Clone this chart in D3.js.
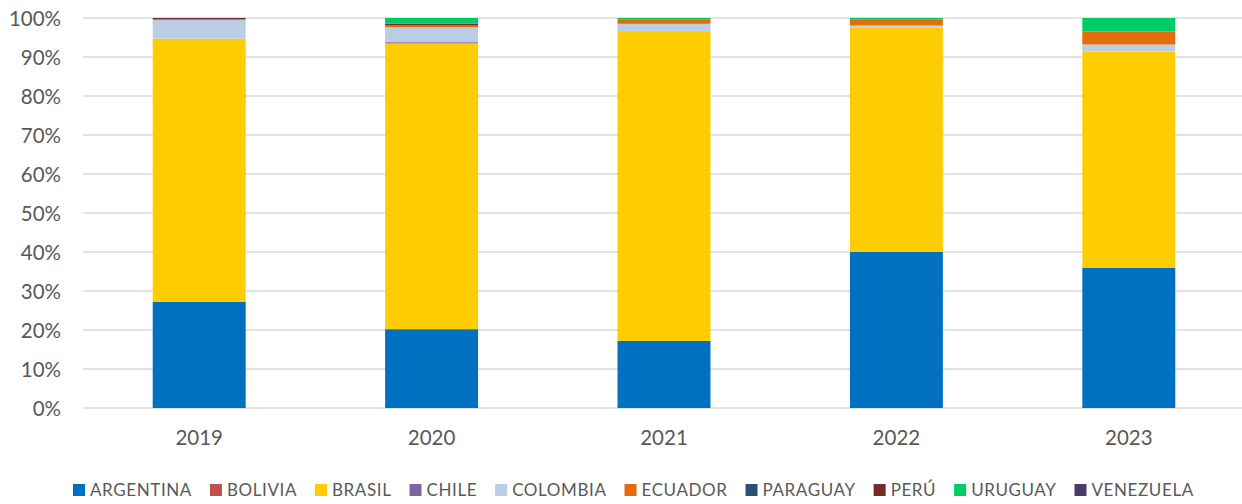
<!DOCTYPE html>
<html>
<head>
<meta charset="utf-8">
<script src="https://cdn.jsdelivr.net/npm/d3@7"></script>
<style>
  body { margin: 0; background: #fff; }
  text { font-family: Lato, "Open Sans", sans-serif; fill: #595959; }
</style>
</head>
<body>
<svg id="chart" width="1242" height="504"></svg>
<script>
// years on the x axis
const years = ['2019', '2020', '2021', '2022', '2023'];

// one share (%) per year, stacked bottom to top in legend order
const argentina = [27.2, 20.2, 17.2, 40.0, 35.9];
const bolivia   = [0, 0, 0, 0, 0];
const brasil    = [67.5, 73.3, 79.5, 57.6, 55.5];
const chile     = [0, 0.3, 0, 0, 0];
const colombia  = [4.9, 3.8, 1.8, 0.5, 1.8];
const ecuador   = [0, 0.6, 1.2, 1.6, 3.3];
const paraguay  = [0, 0, 0, 0, 0];
const peru      = [0.4, 0.3, 0, 0, 0];
const uruguay   = [0, 1.5, 0.3, 0.3, 3.5];
const venezuela = [0, 0, 0, 0, 0];

const countries = ['ARGENTINA', 'BOLIVIA', 'BRASIL', 'CHILE', 'COLOMBIA',
                   'ECUADOR', 'PARAGUAY', 'PERÚ', 'URUGUAY', 'VENEZUELA'];
const series = [argentina, bolivia, brasil, chile, colombia,
                ecuador, paraguay, peru, uruguay, venezuela];
const colors = ['#0070C0', '#C0504D', '#FFCC00', '#8064A2', '#B9CDE5',
                '#E46C0A', '#2C4D75', '#772C2A', '#00CC66', '#4B3A63'];

const yTicks = [0, 0.1, 0.2, 0.3, 0.4, 0.5, 0.6, 0.7, 0.8, 0.9, 1];

// build the table d3.stack wants
const table = years.map((yr, i) => {
  const row = { year: yr };
  countries.forEach((c, j) => { row[c] = series[j][i] / 100; });
  return row;
});

const svg = d3.select('#chart');

const x = d3.scaleBand()
  .domain(years)
  .range([83, 1245])
  .paddingInner(0.6)
  .paddingOuter(0.3);

const y = d3.scaleLinear()
  .domain([0, 1])
  .range([408, 18]);

const color = d3.scaleOrdinal().domain(countries).range(colors);

// gridlines
svg.append('g')
  .selectAll('line')
  .data(yTicks)
  .join('line')
  .attr('x1', 83)
  .attr('x2', 1242)
  .attr('y1', d => y(d))
  .attr('y2', d => y(d))
  .attr('stroke', '#D9D9D9')
  .attr('stroke-width', 1.5);

// y axis labels
const yAxis = svg.append('g')
  .attr('transform', 'translate(61,0)')
  .call(d3.axisLeft(y).tickValues(yTicks).tickFormat(d3.format('.0%')).tickSize(0).tickPadding(0));
yAxis.select('.domain').remove();
yAxis.selectAll('text')
  .style('font-size', '20.5px')
  .attr('fill', '#595959')
  .attr('dy', '0.35em');

// stacked bars
const stacked = d3.stack().keys(countries)(table);

svg.append('g')
  .selectAll('g')
  .data(stacked)
  .join('g')
  .attr('fill', d => color(d.key))
  .selectAll('rect')
  .data(d => d.filter(p => p[1] - p[0] > 0))
  .join('rect')
  .attr('x', d => x(d.data.year))
  .attr('width', x.bandwidth())
  .attr('y', d => y(d[1]))
  .attr('height', d => y(d[0]) - y(d[1]));

// x axis labels
const xAxis = svg.append('g')
  .attr('transform', 'translate(0,408)')
  .call(d3.axisBottom(x).tickSize(0).tickPadding(22));
xAxis.select('.domain').remove();
xAxis.selectAll('text')
  .style('font-size', '20.5px')
  .attr('fill', '#595959');

// legend, laid out from measured text widths
const legend = svg.append('g').attr('transform', 'translate(73,490)');
let lx = 0;
countries.forEach(c => {
  const item = legend.append('g').attr('transform', `translate(${lx},0)`);
  item.append('rect')
    .attr('x', 0)
    .attr('y', -6)
    .attr('width', 12)
    .attr('height', 12)
    .attr('fill', color(c));
  const t = item.append('text')
    .attr('x', 17)
    .attr('y', 0)
    .attr('dy', '0.35em')
    .style('font-size', '17px')
    .style('letter-spacing', '0.6px')
    .text(c);
  lx += 17 + t.node().getComputedTextLength() + 18;
});
</script>
</body>
</html>
